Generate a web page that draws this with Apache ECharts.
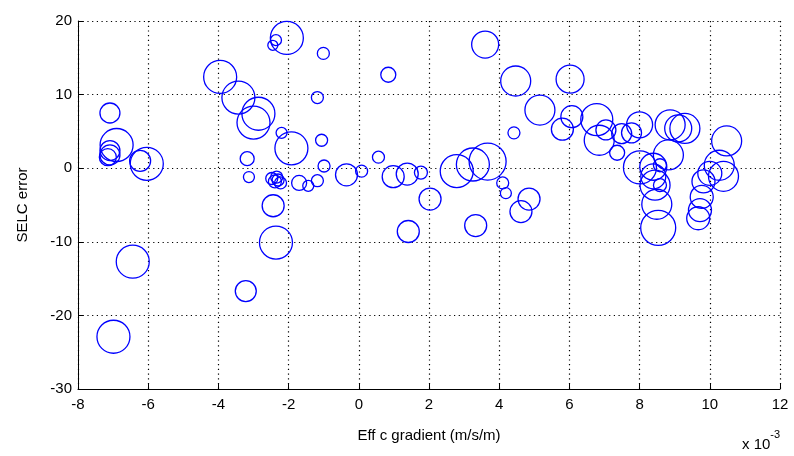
<!DOCTYPE html>
<html>
<head>
<meta charset="utf-8">
<script src="https://cdn.jsdelivr.net/npm/echarts@6/dist/echarts.min.js"></script>
<style>
  html, body { margin: 0; padding: 0; background: #fff; }
  #chart { width: 794px; height: 456px; }
</style>
</head>
<body>
<div id="chart"></div>
<script>
  // x in units of 1e-3 m/s/m, y = SELC error, size = circle diameter
  var effGradient = [
    -7.09, -6.9, -7.09, -7.09, -7.15, -6.23, -6.04, -6.44, -6.99, -3.22,
    -3.95, -3.43, -2.86, -3.0, -2.05, -2.36, -2.45, -2.2, -1.92, -3.18,
    -3.13, -2.48, -2.34, -2.39, -2.23, -2.3, -1.7, -1.44, -1.18, -2.44,
    -2.36, -1.01, 0.84, -1.18, -1.06, -0.99, 0.56, -0.35, 0.08, 0.98,
    1.38, 1.77, 2.03, 1.41, 2.79, 3.25, 3.67, 3.6, 4.47, 5.16,
    4.42, 4.1, 4.19, 3.33, 4.85, 4.62,
    6.02, 6.07, 5.8, 6.78, 6.85, 7.04, 7.36, 7.49, 7.77, 8.0,
    8.87, 9.1, 9.29, 8.82, 8.01, 8.39, 8.58, 8.44, 8.58, 8.49,
    8.53, 10.48, 10.27, 10.39, 9.82, 9.77, 9.72, 9.67, 8.39, 10.0
  ];
  var selcError = [
    7.5, 3.15, 2.4, 1.8, 1.5, 1.0, 0.6, -12.7, -22.9, -16.7,
    12.4, 9.6, 7.4, 6.2, 17.7, 17.4, 16.7, 4.8, 2.7, 1.3,
    -1.2, -1.4, -1.2, -1.8, -2.0, -1.6, -2.0, -2.4, -1.7, -5.1,
    -10.1, 15.6, 12.7, 9.6, 3.8, 0.3, 1.5, -0.9, -0.4, -1.15,
    -0.8, -0.6, -4.2, -8.6, -0.4, 0.5, 0.9, 16.8, 11.85, 7.9,
    4.8, -2.0, -3.4, -7.8, -4.2, -5.9,
    12.1, 7.0, 5.3, 6.6, 3.8, 5.2, 2.1, 4.7, 4.8, 5.9,
    5.9, 5.4, 5.4, 1.8, 0.1, 0.2, 0.4, -2.3, -2.3, -4.9,
    -8.1, 3.7, 0.4, -1.1, -1.8, -3.9, -5.7, -6.8, -1.1, -0.7
  ];
  var circleSize = [
    20, 33, 20, 20, 17, 21, 33, 33, 33, 21,
    33, 33, 33, 33, 33, 11, 10, 11, 33, 14,
    11, 12, 12, 13, 12, 12, 15, 11, 12, 22,
    33, 12, 15, 12, 12, 12, 12, 22, 12, 22,
    22, 13, 22, 22, 33, 33, 37, 27, 30, 30,
    12, 12, 11, 22, 22, 22,
    28, 22, 22, 32, 30, 20, 15, 20, 20, 26,
    30, 27, 30, 30, 33, 27, 13, 30, 13, 30,
    35, 30, 30, 30, 23, 23, 23, 23, 25, 24
  ];
  var xTicks = { min: -8, max: 12, step: 2 };
  var yTicks = { min: -30, max: 20, step: 10 };

  var points = [];
  for (var i = 0; i < effGradient.length; i++) {
    points.push([effGradient[i], selcError[i], circleSize[i]]);
  }

  var font = "'Liberation Sans Narrow', 'Liberation Sans', Arial, sans-serif";
  var gridDots = { show: true, lineStyle: { color: '#000', width: 1.2, type: [1.2, 3.5] } };

  var chart = echarts.init(document.getElementById('chart'), null, { renderer: 'canvas' });
  chart.setOption({
    backgroundColor: '#fff',
    animation: false,
    grid: { left: 78, right: 14, top: 21, bottom: 67, containLabel: false },
    xAxis: {
      type: 'value',
      min: xTicks.min, max: xTicks.max, interval: xTicks.step,
      name: 'Eff c gradient (m/s/m)',
      nameLocation: 'middle',
      nameGap: 39,
      nameTextStyle: { color: '#000', fontSize: 15, fontFamily: font },
      axisLine: { show: true, onZero: false, lineStyle: { color: '#000', width: 1 } },
      axisTick: { show: true, inside: true, length: 5, lineStyle: { color: '#000' } },
      axisLabel: { color: '#000', fontSize: 15, fontFamily: font, margin: 8 },
      splitLine: gridDots
    },
    yAxis: {
      type: 'value',
      min: yTicks.min, max: yTicks.max, interval: yTicks.step,
      name: 'SELC error',
      nameLocation: 'middle',
      nameGap: 48,
      nameRotate: 90,
      nameTextStyle: { color: '#000', fontSize: 15, fontFamily: font },
      axisLine: { show: true, onZero: false, lineStyle: { color: '#000', width: 1 } },
      axisTick: { show: true, inside: true, length: 5, lineStyle: { color: '#000' } },
      axisLabel: { color: '#000', fontSize: 15, fontFamily: font, margin: 6 },
      splitLine: gridDots
    },
    graphic: [{
      type: 'text',
      left: 742,
      top: 429,
      style: {
        text: '{b|x 10}{s|-3}',
        fill: '#000',
        rich: {
          b: { fontSize: 15, fontFamily: font, padding: [8, 0, 0, 0] },
          s: { fontSize: 11, fontFamily: font, verticalAlign: 'top' }
        }
      }
    }],
    series: [{
      type: 'scatter',
      data: points,
      symbol: 'circle',
      symbolSize: function (d) { return d[2]; },
      itemStyle: { color: 'rgba(0,0,0,0)', borderColor: '#0000ff', borderWidth: 1.3, opacity: 1 },
      emphasis: { disabled: true }
    }]
  });
</script>
</body>
</html>
